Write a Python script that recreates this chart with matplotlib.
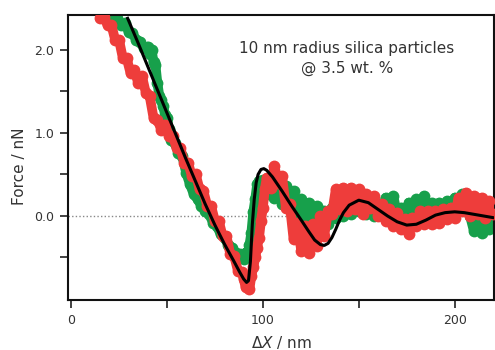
import matplotlib
matplotlib.use("Agg")
import matplotlib.pyplot as plt
from matplotlib.ticker import FixedLocator

# ---- data ----
green_x = [20, 22, 24, 26, 28, 30, 32, 34, 36, 38, 40, 41, 42, 43, 44, 45, 46, 47, 48, 49,
           50, 51, 52, 54, 56, 58, 60, 62, 64, 66, 68, 70, 72, 74, 76, 78, 80, 82, 84, 86,
           88, 90, 91, 92, 93, 94, 95, 96, 97, 98, 100, 102, 104, 106, 108, 110, 112, 114,
           116, 118, 120, 122, 124, 126, 128, 130, 132, 134, 136, 138, 140, 142, 144, 146,
           148, 150, 152, 154, 156, 158, 160, 162, 164, 166, 168, 170, 172, 174, 176, 178,
           180, 182, 184, 186, 188, 190, 192, 194, 196, 198, 200, 202, 204, 206, 208, 210,
           212, 214, 216, 218, 220]
green_y = [2.40, 2.35, 2.38, 2.30, 2.32, 2.22, 2.20, 2.12, 2.10, 2.02, 2.04, 1.95, 2.00, 1.85,
           1.82, 1.60, 1.45, 1.40, 1.32, 1.22, 1.18, 1.05, 0.92, 0.88, 0.76, 0.72, 0.52, 0.38,
           0.26, 0.20, 0.12, 0.06, 0.02, -0.08, -0.12, -0.22, -0.26, -0.35, -0.38, -0.45,
           -0.46, -0.52, -0.44, -0.48, -0.35, -0.20, 0.05, 0.20, 0.38, 0.42,
           0.43, 0.27, 0.40, 0.22, 0.30, 0.14, 0.36, 0.20, 0.30, 0.04, 0.20, -0.04, 0.16,
           -0.06, 0.12, -0.08, 0.06, -0.10, 0.10, -0.02, 0.14, 0.00, 0.16, 0.02, 0.18, 0.06,
           0.18, 0.02, 0.16, 0.00, 0.14, 0.04, 0.22, 0.10, 0.24, 0.02, 0.10, -0.04, 0.16,
           0.02, 0.20, 0.06, 0.24, 0.08, 0.16, 0.00, 0.16, 0.02, 0.18, 0.04, 0.22, 0.08,
           0.26, 0.10, 0.00, -0.18, -0.06, -0.20, -0.04, -0.16, -0.02]

red_x = [15, 17, 19, 21, 23, 25, 27, 29, 31, 33, 35, 37, 39, 41, 43, 45, 47, 49, 51, 53, 55,
         57, 59, 61, 63, 65, 67, 69, 71, 73, 75, 77, 79, 81, 83, 85, 87, 89, 90, 91, 92, 93,
         94, 95, 96, 97, 98, 99, 100, 101, 102, 104, 106, 108, 110, 112, 114, 116, 118, 120,
         122, 124, 126, 128, 130, 132, 134, 136, 138, 140, 142, 144, 146, 148, 150, 152, 154,
         156, 158, 160, 162, 164, 166, 168, 170, 172, 174, 176, 178, 180, 182, 184, 186, 188,
         190, 192, 194, 196, 198, 200, 202, 204, 206, 208, 210, 212, 214, 216, 218, 220]
red_y = [2.38, 2.40, 2.30, 2.30, 2.12, 2.12, 1.90, 1.90, 1.72, 1.76, 1.60, 1.68, 1.48, 1.44,
         1.18, 1.16, 1.04, 1.10, 0.96, 0.96, 0.82, 0.82, 0.64, 0.64, 0.48, 0.50, 0.32, 0.30,
         0.12, 0.12, -0.06, -0.06, -0.24, -0.24, -0.46, -0.48, -0.66, -0.68, -0.76, -0.86,
         -0.80, -0.88, -0.72, -0.62, -0.50, -0.38, -0.26, -0.06,
         0.10, 0.32, 0.46, 0.34, 0.60, 0.40, 0.48, 0.10, 0.14, -0.28, -0.08, -0.42, -0.12,
         -0.44, -0.10, -0.36, 0.00, -0.24, 0.06, 0.02, 0.32, 0.08, 0.34, 0.06, 0.34, 0.08,
         0.32, 0.02, 0.26, 0.10, 0.24, 0.00, 0.14, -0.06, 0.08, -0.12, 0.04, -0.16, -0.04,
         -0.22, -0.02, -0.12, 0.06, -0.10, 0.06, -0.10, 0.06, -0.08, 0.08, -0.04, 0.10,
         -0.02, 0.22, 0.06, 0.28, 0.00, 0.24, 0.02, 0.22, -0.02, 0.18, 0.02]

fit_x = [29.5, 35, 40, 45, 50, 55, 60, 65, 70, 75, 80, 85, 88, 90, 91.5, 92.5, 93.5, 94.5,
         95.5, 96.5, 97.5, 99, 100.5, 102, 105, 110, 115, 120, 124, 127, 130, 132, 134, 136,
         138, 140, 142, 145, 150, 155, 160, 165, 170, 175, 180, 185, 190, 195, 200, 205,
         210, 215, 220]
fit_y = [2.38, 2.08, 1.80, 1.52, 1.24, 0.96, 0.68, 0.41, 0.14, -0.11, -0.34, -0.55, -0.68,
         -0.76, -0.80, -0.78, -0.55, -0.10, 0.20, 0.40, 0.50, 0.56, 0.57, 0.55, 0.47, 0.30,
         0.12, -0.05, -0.19, -0.29, -0.345, -0.355, -0.33, -0.26, -0.16, -0.05, 0.04, 0.13,
         0.19, 0.16, 0.08, 0.00, -0.07, -0.11, -0.10, -0.05, 0.01, 0.04, 0.05, 0.04, 0.02,
         0.00, -0.02]

x_major = [0, 100, 200]
x_minor = [50, 150]
y_major = [0.0, 1.0, 2.0]
y_major_labels = ["0.0", "1.0", "2.0"]
y_minor = [-0.5, 0.5, 1.5]

GREEN = "#17a04b"
RED = "#ee3d3b"
TXT = "#333333"

fig = plt.figure(figsize=(4.95, 3.5), dpi=100)
ax = fig.add_axes([68 / 495, 50 / 350, 426 / 495, 285 / 350])

ax.axhline(0, color="#888888", lw=1.0, ls=(0, (1, 1.6)), zorder=1)

ax.plot(green_x, green_y, color=GREEN, lw=7, solid_joinstyle="round",
        solid_capstyle="round", marker="o", ms=8.5, mew=0, zorder=2)
ax.plot(red_x, red_y, color=RED, lw=7, solid_joinstyle="round",
        solid_capstyle="round", marker="o", ms=8.5, mew=0, zorder=3)
ax.plot(fit_x, fit_y, color="black", lw=2.2, solid_joinstyle="round", zorder=4)

ax.set_xlim(-1.6, 220.5)
ax.set_ylim(-1.012, 2.42)

ax.xaxis.set_major_locator(FixedLocator(x_major))
ax.xaxis.set_minor_locator(FixedLocator(x_minor))
ax.yaxis.set_major_locator(FixedLocator(y_major))
ax.yaxis.set_minor_locator(FixedLocator(y_minor))
ax.set_xticklabels([str(v) for v in x_major])
ax.set_yticklabels(y_major_labels)

for axis in (ax.xaxis, ax.yaxis):
    axis.set_tick_params(which="both", direction="out", length=6, width=1.2,
                         color="#222222", labelsize=9, labelcolor=TXT, pad=4)
for s in ax.spines.values():
    s.set_linewidth(1.5)
    s.set_color("#111111")

ax.set_ylabel("Force / nN", fontsize=11, color=TXT)
ax.yaxis.set_label_coords(-0.097, 0.47)
ax.set_xlabel(r"$\mathit{\Delta X}$ / nm", fontsize=11, color=TXT, labelpad=5)

ax.text(0.655, 0.847, "10 nm radius silica particles\n@ 3.5 wt. %",
        transform=ax.transAxes, ha="center", va="center", fontsize=11,
        color=TXT, linespacing=1.45)

fig.savefig("out.png", dpi=100)
